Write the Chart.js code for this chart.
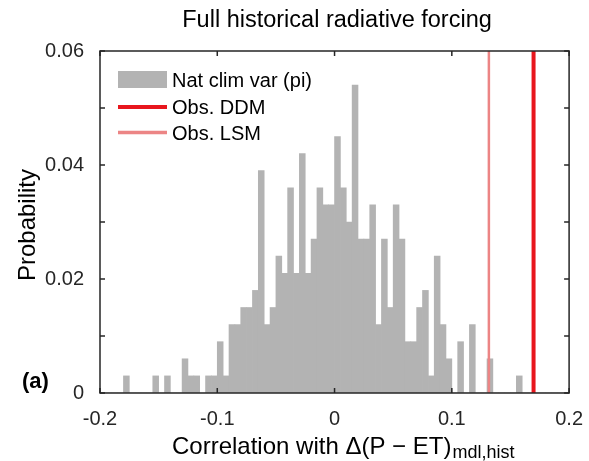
<!DOCTYPE html>
<html>
<head>
<meta charset="utf-8">
<script src="https://cdn.jsdelivr.net/npm/chart.js@4.4.1/dist/chart.umd.min.js"></script>
<style>
  body { margin: 0; background: #fff; }
  #wrap { width: 589px; height: 461px; }
</style>
</head>
<body>
<div id="wrap"><canvas id="histChart" width="589" height="461"></canvas></div>
<script>
// histogram bins are 0.005 wide, from -0.2 to 0.2 (80 bins)
const binStart = -0.2;
const binWidth = 0.005;
const probability = [
    0, 0, 0, 0, 0.003, 0, 0, 0, 0, 0.003,
    0, 0.003, 0, 0, 0.006, 0.003, 0.003, 0, 0.003, 0.003,
    0.009, 0.003, 0.012, 0.012, 0.015, 0.015, 0.018, 0.039, 0.012, 0.015,
    0.024, 0.021, 0.036, 0.021, 0.042, 0.021, 0.027, 0.036, 0.033, 0.033,
    0.045, 0.036, 0.030, 0.054, 0.027, 0.027, 0.033, 0.012, 0.027, 0.015,
    0.033, 0.027, 0.009, 0.009, 0.015, 0.018, 0.003, 0.024, 0.012, 0.006,
    0, 0.009, 0, 0.012, 0, 0, 0.006, 0, 0, 0,
    0, 0.003, 0, 0, 0, 0, 0, 0, 0, 0
];
const binCenters = probability.map((_, i) => binStart + (i + 0.5) * binWidth);

// observed correlations
const obsDDM = 0.1697;
const obsLSM = 0.1316;

const xTickValues = [-0.2, -0.1, 0, 0.1, 0.2];
const yTickValues = [0, 0.01, 0.02, 0.03, 0.04, 0.05, 0.06];
const yTickLabels = ['0', '', '0.02', '', '0.04', '', '0.06'];
const legendLabels = ['Nat clim var (pi)', 'Obs. DDM', 'Obs. LSM'];

const FONT = '"Liberation Sans", Arial, Helvetica, sans-serif';
const AXIS_COLOR = '#262626';
const BAR_COLOR = '#b3b3b3';
const DDM_COLOR = '#e8161d';
const LSM_COLOR = '#ec8585';

// box, inward ticks, titles and legend (MATLAB look)
const framePlugin = {
    id: 'frame',
    afterDatasetsDraw(chart) {
        const { ctx, chartArea: a, scales: { x, y } } = chart;
        ctx.save();
        ctx.strokeStyle = AXIS_COLOR;
        ctx.lineWidth = 1.5;
        ctx.beginPath();
        x.ticks.forEach(t => {
            const px = x.getPixelForValue(t.value);
            ctx.moveTo(px, a.bottom); ctx.lineTo(px, a.bottom - 5);
            ctx.moveTo(px, a.top); ctx.lineTo(px, a.top + 5);
        });
        y.ticks.forEach(t => {
            const py = y.getPixelForValue(t.value);
            ctx.moveTo(a.left, py); ctx.lineTo(a.left + 5, py);
            ctx.moveTo(a.right, py); ctx.lineTo(a.right - 5, py);
        });
        ctx.stroke();
        ctx.strokeRect(a.left, a.top, a.right - a.left, a.bottom - a.top);
        ctx.restore();
    },
    afterDraw(chart) {
        const { ctx, chartArea: a } = chart;
        ctx.save();
        ctx.fillStyle = '#000';
        ctx.textBaseline = 'alphabetic';

        // title
        ctx.font = '23.5px ' + FONT;
        ctx.textAlign = 'center';
        ctx.fillText('Full historical radiative forcing', 337, 27);

        // x label with subscript
        ctx.textAlign = 'left';
        ctx.font = '24px ' + FONT;
        const main = 'Correlation with \u0394(P \u2212 ET)';
        ctx.fillText(main, 172, 454);
        const w = ctx.measureText(main).width;
        ctx.font = '18px ' + FONT;
        ctx.fillText('mdl,hist', 172 + w + 1, 457.5);

        // y label
        ctx.save();
        ctx.translate(35, (a.top + a.bottom) / 2 + 3);
        ctx.rotate(-Math.PI / 2);
        ctx.font = '24px ' + FONT;
        ctx.textAlign = 'center';
        ctx.fillText('Probability', 0, 0);
        ctx.restore();

        // panel letter
        ctx.font = 'bold 22px ' + FONT;
        ctx.fillText('(a)', 22, 388);

        // legend
        ctx.fillStyle = BAR_COLOR;
        ctx.fillRect(118, 71, 49, 17);
        ctx.lineCap = 'butt';
        ctx.strokeStyle = DDM_COLOR;
        ctx.lineWidth = 4;
        ctx.beginPath(); ctx.moveTo(118, 107); ctx.lineTo(167, 107); ctx.stroke();
        ctx.strokeStyle = LSM_COLOR;
        ctx.lineWidth = 3.5;
        ctx.beginPath(); ctx.moveTo(118, 132.5); ctx.lineTo(167, 132.5); ctx.stroke();
        ctx.fillStyle = '#000';
        ctx.font = '20px ' + FONT;
        ctx.fillText(legendLabels[0], 172, 87);
        ctx.fillText(legendLabels[1], 172, 114);
        ctx.fillText(legendLabels[2], 172, 140);
        ctx.restore();
    }
};

const ctx = document.getElementById('histChart').getContext('2d');
const histChart = new Chart(ctx, {
    type: 'bar',
    data: {
        datasets: [
            {
                type: 'line',
                label: legendLabels[1],
                data: [{ x: obsDDM, y: 0 }, { x: obsDDM, y: 0.06 }],
                borderColor: DDM_COLOR,
                borderWidth: 4,
                pointRadius: 0,
                order: 0
            },
            {
                type: 'line',
                label: legendLabels[2],
                data: [{ x: obsLSM, y: 0 }, { x: obsLSM, y: 0.06 }],
                borderColor: LSM_COLOR,
                borderWidth: 2.5,
                pointRadius: 0,
                order: 1
            },
            {
                type: 'bar',
                label: legendLabels[0],
                data: binCenters.map((x, i) => ({ x: x, y: probability[i] })),
                backgroundColor: BAR_COLOR,
                borderWidth: 0,
                barPercentage: 1,
                categoryPercentage: 1,
                grouped: false,
                order: 2
            }
        ]
    },
    options: {
        responsive: false,
        animation: false,
        layout: { padding: { left: 0, top: 51, right: 18, bottom: 0 } },
        plugins: {
            legend: { display: false },
            tooltip: { enabled: false },
            title: { display: false }
        },
        scales: {
            x: {
                type: 'linear',
                min: -0.2,
                max: 0.2,
                offset: false,
                grid: { display: false },
                border: { display: false },
                afterBuildTicks: s => { s.ticks = xTickValues.map(v => ({ value: v })); },
                afterFit: s => { s.height = 68; },
                ticks: {
                    padding: 6,
                    autoSkip: false,
                    maxRotation: 0,
                    color: AXIS_COLOR,
                    font: { family: FONT, size: 20 },
                    callback: v => String(+v.toFixed(2))
                }
            },
            y: {
                type: 'linear',
                min: 0,
                max: 0.06,
                grid: { display: false },
                border: { display: false },
                afterBuildTicks: s => { s.ticks = yTickValues.map(v => ({ value: v })); },
                afterFit: s => { s.width = 100; },
                ticks: {
                    padding: 8,
                    autoSkip: false,
                    color: AXIS_COLOR,
                    font: { family: FONT, size: 20 },
                    callback: (v, i) => yTickLabels[i]
                }
            }
        }
    },
    plugins: [framePlugin]
});
</script>
</body>
</html>
